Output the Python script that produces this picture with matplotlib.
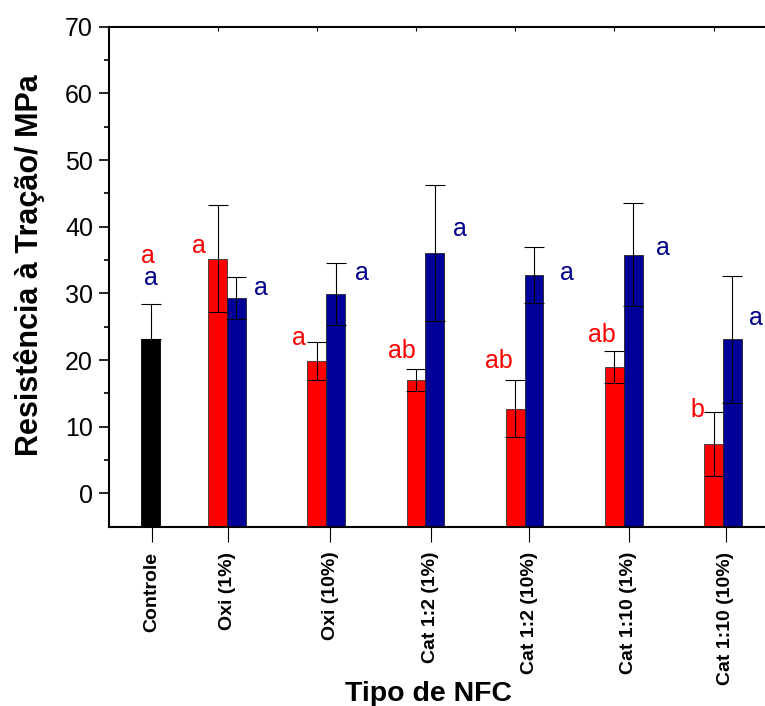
import matplotlib
matplotlib.use("Agg")
import matplotlib.pyplot as plt
from matplotlib.ticker import FixedLocator

plt.rcParams["font.family"] = ["Liberation Sans", "DejaVu Sans"]

# Tensile strength (MPa) per NFC type: mean and standard deviation
categories = ["Controle", "Oxi (1%)", "Oxi (10%)", "Cat 1:2 (1%)",
              "Cat 1:2 (10%)", "Cat 1:10 (1%)", "Cat 1:10 (10%)"]
controle_mean = 23.2
controle_sd = 5.2
red_mean = [35.2, 19.9, 17.0, 12.7, 19.0, 7.35]
red_sd = [8.0, 2.85, 1.7, 4.3, 2.4, 4.8]
blue_mean = [29.3, 29.9, 36.0, 32.7, 35.8, 23.1]
blue_sd = [3.2, 4.7, 10.2, 4.2, 7.7, 9.5]

# Statistical grouping letters
controle_letters = ["a", "a"]
red_letters = ["a", "a", "ab", "ab", "ab", "b"]
blue_letters = ["a", "a", "a", "a", "a", "a"]

# Layout
y_min, y_max = -5, 70
bar_w = 0.19
ctrl_x = 0.229
groups = [1, 2, 3, 4, 5, 6]
red_x = [g - bar_w / 2 for g in groups]
blue_x = [g + bar_w / 2 for g in groups]
tick_x = [0.244, 1.01, 2.04, 3.055, 4.045, 5.05, 6.03]

ctrl_lab_pos = [(0.204, 34.6), (0.23, 31.25)]
red_lab_x = [0.718, 1.725, 2.767, 3.744, 4.781, 5.738]
red_lab_y = [36.05, 22.25, 20.3, 18.8, 22.75, 11.5]
blue_lab_x = [1.342, 2.36, 3.346, 4.424, 5.396, 6.332]
blue_lab_y = [29.75, 32.0, 38.6, 32.0, 35.75, 25.25]

RED = "#FF0000"
BLUE = "#000099"
RED_TXT = "#FF0000"
BLUE_TXT = "#00008B"

fig = plt.figure(figsize=(7.65, 7.06), dpi=100)
ax = fig.add_axes([109 / 765, 1 - 526.7 / 706, (765 - 109) / 765, 500 / 706])

err_kw = dict(ecolor="black", elinewidth=0.8, capsize=7, capthick=0.8)

# Bars rise from the bottom of the axis (Origin-style baseline)
ax.bar([ctrl_x], [controle_mean - y_min], bottom=y_min, width=bar_w,
       color="black", edgecolor="black", linewidth=0.6, zorder=2)
ax.errorbar([ctrl_x], [controle_mean], yerr=[[0], [controle_sd]], fmt="none",
            zorder=3, **err_kw)
ax.bar(red_x, [m - y_min for m in red_mean], bottom=y_min, width=bar_w,
       color=RED, edgecolor="#333333", linewidth=0.6, zorder=2)
ax.errorbar(red_x, red_mean, yerr=red_sd, fmt="none", zorder=3, **err_kw)
ax.bar(blue_x, [m - y_min for m in blue_mean], bottom=y_min, width=bar_w,
       color=BLUE, edgecolor="#222222", linewidth=0.6, zorder=2)
ax.errorbar(blue_x, blue_mean, yerr=blue_sd, fmt="none", zorder=3, **err_kw)

# Letters
fs_let = 18
ax.text(ctrl_lab_pos[0][0], ctrl_lab_pos[0][1], controle_letters[0],
        color=RED_TXT, fontsize=fs_let, ha="center", va="baseline")
ax.text(ctrl_lab_pos[1][0], ctrl_lab_pos[1][1], controle_letters[1],
        color=BLUE_TXT, fontsize=fs_let, ha="center", va="baseline")
for x, y, s in zip(red_lab_x, red_lab_y, red_letters):
    ax.text(x, y, s, color=RED_TXT, fontsize=fs_let, ha="center", va="baseline")
for x, y, s in zip(blue_lab_x, blue_lab_y, blue_letters):
    ax.text(x, y, s, color=BLUE_TXT, fontsize=fs_let, ha="center", va="baseline")

# Axes
ax.set_xlim(1 + (109 - 227) / 99.2, 1 + (765 - 227) / 99.2)
ax.set_ylim(y_min, y_max)
ax.spines["right"].set_visible(False)
for s in ("left", "bottom", "top"):
    ax.spines[s].set_linewidth(1.5)
    ax.spines[s].set_zorder(4)
ax.set_axisbelow(True)

ax.set_yticks([0, 10, 20, 30, 40, 50, 60, 70])
ax.yaxis.set_minor_locator(FixedLocator([5, 15, 25, 35, 45, 55, 65]))
ax.tick_params(axis="y", which="major", direction="out", length=7.5,
               width=1.2, labelsize=18, pad=4)
ax.tick_params(axis="y", which="minor", direction="out", length=3.8, width=1.2)

ax.set_xticks(tick_x)
ax.set_xticklabels(categories, rotation=90, fontsize=14, fontweight="bold")
ax.xaxis.set_minor_locator(FixedLocator(red_x))
ax.tick_params(axis="x", which="major", direction="out", length=11,
               width=0.8, pad=7, bottom=True, top=False)
ax.tick_params(axis="x", which="minor", direction="in", length=3,
               width=0.8, bottom=True, top=True)

fig.text(30 / 765, 1 - 265 / 706, "Resistência à Tração/ MPa", rotation=90,
         fontsize=22, fontweight="bold", ha="center", va="center")
fig.text(428.5 / 765, 1 - 701 / 706, "Tipo de NFC", fontsize=20.5,
         fontweight="bold", ha="center", va="baseline")

fig.savefig("out.png", dpi=100)
